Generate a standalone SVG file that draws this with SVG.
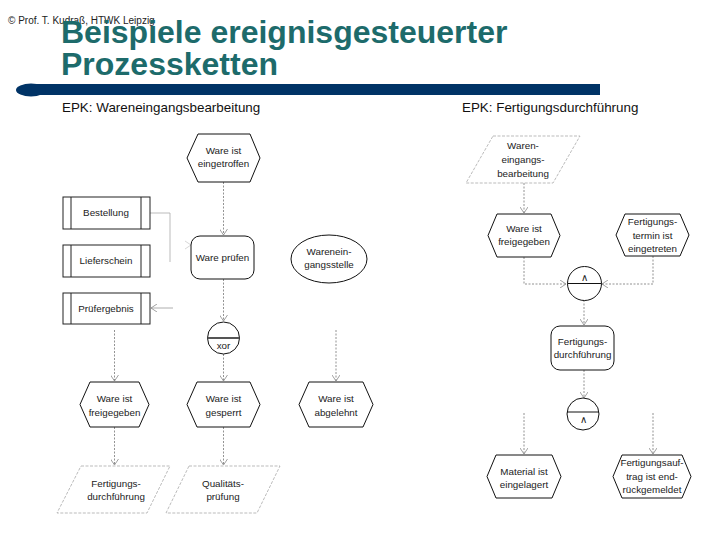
<svg xmlns="http://www.w3.org/2000/svg" width="720" height="540" viewBox="0 0 720 540">
<defs>
<style>
.t{font-family:"Liberation Sans",Arial,sans-serif;font-size:9.8px;fill:#222;text-anchor:middle}
.hdr{font-family:"Liberation Sans",Arial,sans-serif;font-size:13.4px;fill:#111}
.ev{fill:#fff;stroke:#111;stroke-width:1}
.fn{fill:#fff;stroke:#111;stroke-width:1}
.doc{fill:#fff;stroke:#222;stroke-width:1}
.pi{fill:#fff;stroke:#aaa;stroke-width:0.8;stroke-dasharray:3,1.5}
.con{fill:none;stroke:#777;stroke-width:0.8;stroke-dasharray:2,1.5}
.sol{fill:none;stroke:#aaa;stroke-width:0.8}
.op{fill:#fff;stroke:#111;stroke-width:1}
</style>
<marker id="ar" markerWidth="7" markerHeight="8" refX="6" refY="4" orient="auto" markerUnits="userSpaceOnUse">
<path d="M0,0 L6,4 L0,8" fill="none" stroke="#888" stroke-width="0.8"/>
</marker>
</defs>
<rect width="720" height="540" fill="#fff"/>
<g id="header">
<text x="8" y="24" style="font-family:'Liberation Sans',Arial,sans-serif;font-size:10px;fill:#222">© Prof. T. Kudraß, HTWK Leipzig</text>
<text x="61" y="43" style="font-family:'Liberation Sans',Arial,sans-serif;font-size:32px;font-weight:bold;fill:#1d6b6b">Beispiele ereignisgesteuerter</text>
<text x="61" y="75" style="font-family:'Liberation Sans',Arial,sans-serif;font-size:32px;font-weight:bold;fill:#1d6b6b">Prozessketten</text>
<rect x="28" y="84" width="572" height="11" fill="#003366"/>
<ellipse cx="31" cy="90" rx="15" ry="6.5" fill="#003366"/>
<text class="hdr" x="62" y="112">EPK: Wareneingangsbearbeitung</text>
<text class="hdr" x="462" y="112">EPK: Fertigungsdurchführung</text>
</g>
<g id="connectors">
<path class="con" d="M223.5,182 V235" marker-end="url(#ar)"/>
<path class="con" d="M223.5,279 V321" marker-end="url(#ar)"/>
<path class="con" d="M223.5,354 V381" marker-end="url(#ar)"/>
<path class="con" d="M114.5,330 V381" marker-end="url(#ar)"/>
<path class="con" d="M336,330 V381" marker-end="url(#ar)"/>
<path class="con" d="M114.5,427 V465" marker-end="url(#ar)"/>
<path class="con" d="M223.5,427 V465" marker-end="url(#ar)"/>
<path class="sol" d="M150,213 H170 V262"/>
<path d="M185,241 L191,245 L185,249" fill="none" stroke="#ccc" stroke-width="0.8"/>
<path class="con" style="stroke:#999;stroke-dasharray:none" d="M173,308 H151" marker-end="url(#ar)"/>
<path class="con" d="M524,183 V213" marker-end="url(#ar)"/>
<path class="con" d="M524,257 V284 H566" marker-end="url(#ar)"/>
<path class="con" d="M653,256 V284 H602" marker-end="url(#ar)"/>
<path class="con" d="M584,300 V325" marker-end="url(#ar)"/>
<path class="con" d="M584,370 V398" marker-end="url(#ar)"/>
<path class="con" d="M524,413 V454" marker-end="url(#ar)"/>
<path class="con" d="M653,413 V454" marker-end="url(#ar)"/>
</g>
<g id="e_eingetroffen">
<path class="ev" d="M187,158 L198,134 L250,134 L260,158 L250,182 L198,182 Z"/>
<text class="t" x="223.5" y="154">Ware ist</text>
<text class="t" x="223.5" y="167">eingetroffen</text>
</g>
<g id="f_pruefen">
<rect class="fn" x="191" y="236" width="63" height="43" rx="9"/>
<text class="t" x="222.5" y="261">Ware prüfen</text>
</g>
<g id="d_bestellung">
<rect class="doc" x="63" y="197" width="87" height="32"/>
<line x1="71" y1="197" x2="71" y2="229" stroke="#222"/>
<line x1="141" y1="197" x2="141" y2="229" stroke="#222"/>
<text class="t" x="106" y="216">Bestellung</text>
</g>
<g id="d_lieferschein">
<rect class="doc" x="63" y="245" width="87" height="32"/>
<line x1="71" y1="245" x2="71" y2="277" stroke="#222"/>
<line x1="141" y1="245" x2="141" y2="277" stroke="#222"/>
<text class="t" x="106" y="264">Lieferschein</text>
</g>
<g id="d_pruefergebnis">
<rect class="doc" x="63" y="293" width="87" height="31"/>
<line x1="71" y1="293" x2="71" y2="324" stroke="#222"/>
<line x1="141" y1="293" x2="141" y2="324" stroke="#222"/>
<text class="t" x="106" y="312">Prüfergebnis</text>
</g>
<g id="o_wareneingangsstelle">
<ellipse cx="329" cy="259" rx="38" ry="24" fill="#fff" stroke="#111"/>
<text class="t" x="329" y="255">Warenein-</text>
<text class="t" x="329" y="268">gangsstelle</text>
</g>
<g id="c_xor">
<circle class="op" cx="223.5" cy="338" r="16"/>
<line x1="207.5" y1="338" x2="239.5" y2="338" stroke="#555" stroke-width="2"/>
<text class="t" x="223.5" y="349">xor</text>
</g>
<g id="e_freigegeben_l">
<path class="ev" d="M80,404.5 L90,382 L139,382 L149,404.5 L139,427 L90,427 Z"/>
<text class="t" x="114.5" y="402">Ware ist</text>
<text class="t" x="114.5" y="416">freigegeben</text>
</g>
<g id="e_gesperrt">
<path class="ev" d="M187,404.5 L197,382 L250,382 L260,404.5 L250,427 L197,427 Z"/>
<text class="t" x="223.5" y="402">Ware ist</text>
<text class="t" x="223.5" y="416">gesperrt</text>
</g>
<g id="e_abgelehnt">
<path class="ev" d="M299,404.5 L309,382 L363,382 L373,404.5 L363,427 L309,427 Z"/>
<text class="t" x="336" y="402">Ware ist</text>
<text class="t" x="336" y="416">abgelehnt</text>
</g>
<g id="p_fertigung_l">
<path class="pi" d="M81,466 L170,466 L147,513 L57,513 Z"/>
<text class="t" x="116" y="487">Fertigungs-</text>
<text class="t" x="116" y="500">durchführung</text>
</g>
<g id="p_qualitaet">
<path class="pi" d="M189,466 L280,466 L257,513 L166,513 Z"/>
<text class="t" x="223" y="487">Qualitäts-</text>
<text class="t" x="223" y="500">prüfung</text>
</g>
<g id="p_wareneingang">
<path class="pi" d="M493,136 L580,136 L553,183 L466,183 Z"/>
<text class="t" x="523" y="149">Waren-</text>
<text class="t" x="523" y="163">eingangs-</text>
<text class="t" x="523" y="177">bearbeitung</text>
</g>
<g id="e_freigegeben_r">
<path class="ev" d="M488,235.5 L497,214 L551,214 L560,235.5 L551,257 L497,257 Z"/>
<text class="t" x="524" y="232">Ware ist</text>
<text class="t" x="524" y="245">freigegeben</text>
</g>
<g id="e_termin">
<path class="ev" d="M616,235 L625,214 L680,214 L689,235 L680,256 L625,256 Z"/>
<text class="t" x="652.5" y="225">Fertigungs-</text>
<text class="t" x="652.5" y="239">termin ist</text>
<text class="t" x="652.5" y="252">eingetreten</text>
</g>
<g id="c_and1">
<circle class="op" cx="584.5" cy="283.5" r="17"/>
<line x1="567.5" y1="283.5" x2="601.5" y2="283.5" stroke="#111"/>
<text class="t" x="584.5" y="281">∧</text>
</g>
<g id="f_fertigung_r">
<rect class="fn" x="551" y="326" width="63" height="44" rx="9"/>
<text class="t" x="582.5" y="345">Fertigungs-</text>
<text class="t" x="582.5" y="358">durchführung</text>
</g>
<g id="c_and2">
<circle class="op" cx="583" cy="414" r="16"/>
<line x1="567" y1="412" x2="599" y2="412" stroke="#111"/>
<text class="t" x="583" y="423">∧</text>
</g>
<g id="e_eingelagert">
<path class="ev" d="M487,476.5 L496,455 L552,455 L561,476.5 L552,498 L496,498 Z"/>
<text class="t" x="524" y="475">Material ist</text>
<text class="t" x="524" y="488">eingelagert</text>
</g>
<g id="e_rueckgemeldet">
<path class="ev" d="M613,476.5 L622,455 L682,455 L691,476.5 L682,498 L622,498 Z"/>
<text class="t" x="652" y="466">Fertigungsauf-</text>
<text class="t" x="652" y="480">trag ist end-</text>
<text class="t" x="652" y="493">rückgemeldet</text>
</g>
</svg>
